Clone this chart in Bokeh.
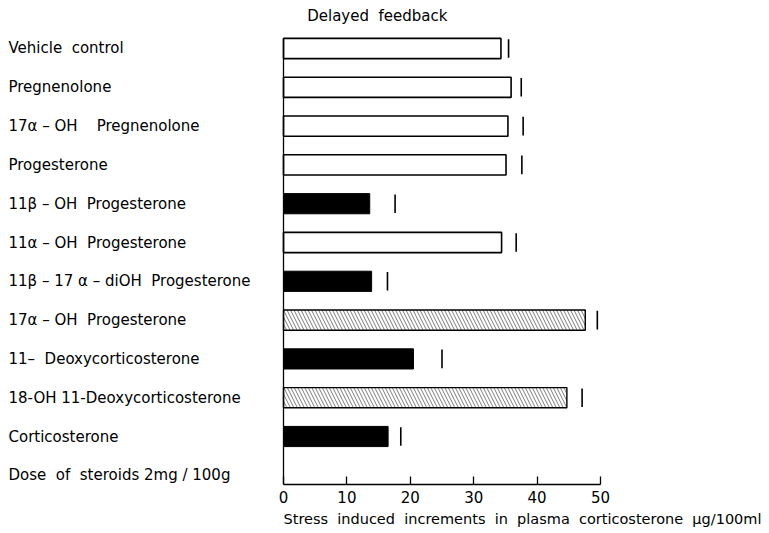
from bokeh.plotting import figure
from bokeh.models import Range1d, LinearAxis, FixedTicker, ColumnDataSource, Title
from bokeh.core.properties import value
from bokeh.embed import file_html
from bokeh.resources import INLINE

S = "\u00a0 "  # a visible double space
title = "Delayed" + S + "feedback"
compounds = [
    "Vehicle" + S + "control",
    "Pregnenolone",
    "17α – OH" + S + S + "Pregnenolone",
    "Progesterone",
    "11β – OH" + S + "Progesterone",
    "11α – OH" + S + "Progesterone",
    "11β – 17 α – diOH" + S + "Progesterone",
    "17α – OH" + S + "Progesterone",
    "11–" + S + "Deoxycorticosterone",
    "18-OH 11-Deoxycorticosterone",
    "Corticosterone",
]
footer_row = "Dose" + S + "of" + S + "steroids 2mg / 100g"
means = [34.3, 35.9, 35.4, 35.1, 13.6, 34.4, 13.9, 47.6, 20.5, 44.7, 16.5]
upper = [35.5, 37.5, 37.8, 37.6, 17.6, 36.7, 16.4, 49.5, 25.0, 47.1, 18.5]
kinds = ["open", "open", "open", "open", "black", "open", "black",
         "hatch", "black", "hatch", "black"]
x_ticks = [0, 10, 20, 30, 40, 50]
x_label = ("Stress" + S + "induced" + S + "increments" + S + "in" + S + "plasma"
           + S + "corticosterone" + S + "μg/100ml")

FONT = "DejaVu Sans"

p = figure(width=769, height=533, output_backend="svg", toolbar_location=None,
           x_range=Range1d(-44.64, 76.66), y_range=Range1d(11.237, -1.237),
           min_border_left=0, min_border_right=0, min_border_top=0,
           min_border_bottom=49, x_axis_location=None, y_axis_location=None)
p.outline_line_color = None
p.grid.visible = False

rows = list(range(len(compounds)))
H = 0.52

def sub(kind):
    idx = [i for i, k in enumerate(kinds) if k == kind]
    return ColumnDataSource(dict(y=[rows[i] for i in idx],
                                 right=[means[i] for i in idx]))

p.hbar(y="y", left=0, right="right", height=H, source=sub("open"),
       fill_color="white", line_color="black", line_width=1.6)
p.hbar(y="y", left=0, right="right", height=H, source=sub("black"),
       fill_color="black", line_color="black", line_width=1)
p.hbar(y="y", left=0, right="right", height=H, source=sub("hatch"),
       fill_color="white", line_color="black", line_width=1.4,
       hatch_pattern="\\", hatch_color="#444444", hatch_scale=7,
       hatch_weight=0.7)

# SE marks
p.segment(x0=upper, y0=[r - 0.24 for r in rows], x1=upper,
          y1=[r + 0.24 for r in rows], line_color="black", line_width=1.6)

# left spine at x = 0
p.segment(x0=[0], y0=[-H / 2], x1=[0], y1=[11.237], line_color="black",
          line_width=1.3)

# row labels
labels = compounds + [footer_row]
p.text(x=[-43.38] * len(labels), y=list(range(len(labels))), text=labels,
       text_font=value(FONT), text_font_size="15px", text_align="left",
       text_baseline="middle", text_color="black")

# title
p.text(x=[14.8], y=[-0.825], text=[title], text_font=value(FONT),
       text_font_size="15px", text_align="center", text_baseline="middle",
       text_color="black")

xaxis = LinearAxis(ticker=FixedTicker(ticks=x_ticks), bounds=(0, 50))
xaxis.axis_line_width = 1.3
xaxis.major_tick_in = 8
xaxis.major_tick_out = 0
xaxis.major_tick_line_width = 1.3
xaxis.minor_tick_line_color = None
xaxis.major_label_text_font = FONT
xaxis.major_label_text_font_size = "15px"
xaxis.major_label_text_color = "black"
xaxis.major_label_standoff = 6
p.add_layout(xaxis, "below")

xt = Title(text=x_label, align="right", offset=8, text_font=FONT,
           text_font_size="14.5px", text_font_style="normal",
           text_color="black", standoff=7)
p.add_layout(xt, "below")

open("out.html", "w").write(file_html(p, INLINE))
